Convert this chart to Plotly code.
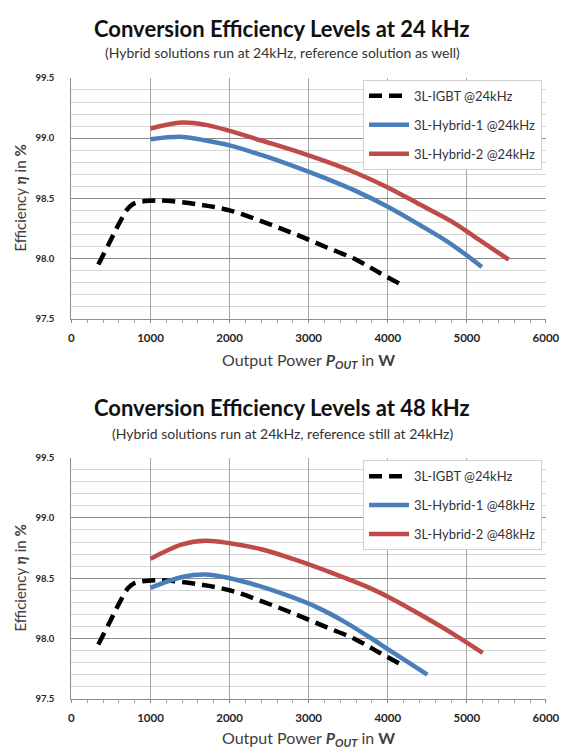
import plotly.graph_objects as go

# ---------------- data ----------------
igbt_p = [340, 480, 610, 720, 800, 1000, 1200, 1600, 2000, 2400, 2800, 3200, 3600, 3900, 4150]
igbt_eff = [97.95, 98.13, 98.30, 98.42, 98.46, 98.48, 98.48, 98.45, 98.40, 98.31, 98.21, 98.10, 97.99, 97.88, 97.79]

h1_24_p = [1000, 1400, 1700, 2000, 2400, 2800, 3200, 3600, 4000, 4400, 4800, 5190]
h1_24_eff = [98.99, 99.01, 98.98, 98.94, 98.86, 98.77, 98.67, 98.56, 98.43, 98.28, 98.12, 97.93]

h2_24_p = [1000, 1400, 1700, 2000, 2400, 2800, 3200, 3600, 4000, 4400, 4800, 5100, 5530]
h2_24_eff = [99.08, 99.13, 99.11, 99.06, 98.98, 98.90, 98.81, 98.71, 98.59, 98.45, 98.31, 98.18, 97.99]

h1_48_p = [1000, 1400, 1700, 2000, 2400, 2800, 3100, 3450, 3770, 4050, 4500]
h1_48_eff = [98.42, 98.51, 98.53, 98.50, 98.43, 98.34, 98.26, 98.14, 98.01, 97.89, 97.70]

h2_48_p = [1000, 1400, 1700, 2000, 2400, 2800, 3350, 3770, 4020, 4460, 4870, 5200]
h2_48_eff = [98.66, 98.78, 98.81, 98.79, 98.74, 98.66, 98.53, 98.42, 98.34, 98.18, 98.02, 97.88]

names_top = ["3L-IGBT @24kHz", "3L-Hybrid-1 @24kHz", "3L-Hybrid-2 @24kHz"]
names_bot = ["3L-IGBT @24kHz", "3L-Hybrid-1 @48kHz", "3L-Hybrid-2 @48kHz"]

titles = ["Conversion Efficiency Levels at 24 kHz", "Conversion Efficiency Levels at 48 kHz"]
subtitles = ["(Hybrid solutions run at 24kHz, reference solution as well)",
             "(Hybrid solutions run at 24kHz, reference still at 24kHz)"]

x_ticks = [0, 1000, 2000, 3000, 4000, 5000, 6000]
y_ticks = [97.5, 98.0, 98.5, 99.0, 99.5]
y_ticklabels = ["97.5", "98.0", "98.5", "99.0", "99.5"]

# ---------------- style ----------------
W, H = 575, 754
FONT = "Lato"
BLACK = "#000000"
BLUE = "#4A7EBB"
RED = "#BE4B48"
LW = 4.5

fig = go.Figure()

def add_series(x, y, name, color, dash, xa, ya, legend, group):
    fig.add_trace(go.Scatter(
        x=x, y=y, name=name, mode="lines",
        line=dict(color=color, width=LW, dash=dash, shape="spline", smoothing=1.0),
        xaxis=xa, yaxis=ya, legend=legend, legendgroup=group,
        hoverinfo="x+y+name",
    ))

DASH = "13px,7px"
add_series(igbt_p, igbt_eff, names_top[0], BLACK, DASH, "x", "y", "legend", "a1")
add_series(h1_24_p, h1_24_eff, names_top[1], BLUE, "solid", "x", "y", "legend", "a2")
add_series(h2_24_p, h2_24_eff, names_top[2], RED, "solid", "x", "y", "legend", "a3")
add_series(igbt_p, igbt_eff, names_bot[0], BLACK, DASH, "x2", "y2", "legend2", "b1")
add_series(h1_48_p, h1_48_eff, names_bot[1], BLUE, "solid", "x2", "y2", "legend2", "b2")
add_series(h2_48_p, h2_48_eff, names_bot[2], RED, "solid", "x2", "y2", "legend2", "b3")

def px_x(p):
    return p / W

def px_y(p):
    return 1 - p / H

xdom = [px_x(70.5), px_x(559.5)]
top_dom = [px_y(317.3), px_y(73)]
bot_dom = [px_y(703), px_y(458.3)]

def xaxis(anchor):
    return dict(
        domain=xdom, anchor=anchor, range=[0, 6000], tickvals=x_ticks,
        ticktext=[str(v) for v in x_ticks],
        showgrid=True, gridcolor="#a6a6a6", gridwidth=1,
        showline=True, linecolor="#8c8c8c", linewidth=1.3,
        ticks="outside", ticklen=3, tickcolor="#8c8c8c",
        minor=dict(dtick=200, ticks="outside", ticklen=3, tickcolor="#a0a0a0", showgrid=False),
        tickfont=dict(family=FONT, size=11.5, color="#262626", weight="bold"),
        ticklabelstandoff=5, zeroline=False, fixedrange=True,
    )

def yaxis(anchor):
    return dict(
        domain=None, anchor=anchor, range=[97.5, 99.5], tickvals=y_ticks,
        ticktext=y_ticklabels,
        showgrid=True, gridcolor="#8c8c8c", gridwidth=1.3,
        showline=True, linecolor="#8c8c8c", linewidth=1.3,
        ticks="", minor=dict(dtick=0.1, showgrid=True, gridcolor="#d6d6d6", gridwidth=1),
        tickfont=dict(family=FONT, size=9.5, color="#262626", weight="bold"),
        ticklabelstandoff=14, zeroline=False, fixedrange=True,
    )

ya1 = yaxis("x"); ya1["domain"] = top_dom
ya2 = yaxis("x2"); ya2["domain"] = bot_dom

legend_common = dict(
    xanchor="left", yanchor="top", bgcolor="white",
    bordercolor="#d0d0d0", borderwidth=1,
    font=dict(family=FONT, size=13, color="#333333"),
    tracegroupgap=9, itemwidth=40,
)

fig.update_layout(
    width=W, height=H, margin=dict(l=0, r=0, t=0, b=0),
    paper_bgcolor="white", plot_bgcolor="white",
    showlegend=True,
    xaxis=xaxis("y"), yaxis=ya1,
    xaxis2=xaxis("y2"), yaxis2=ya2,
    legend=dict(x=px_x(371), y=px_y(75), **legend_common),
    legend2=dict(x=px_x(371), y=px_y(461), **legend_common),
)

annots = []
for i, (tc, sc, xt, yt_c) in enumerate([(23, 47, 360, 195), (407, 434, 743, 580.5)]):
    annots.append(dict(text="<b>" + titles[i] + "</b>", x=0.5, y=px_y(tc), xref="paper", yref="paper",
                       xanchor="center", yanchor="middle", showarrow=False,
                       font=dict(family=FONT, size=22, color="#111111")))
    annots.append(dict(text=subtitles[i], x=0.5, y=px_y(sc), xref="paper", yref="paper",
                       xanchor="center", yanchor="middle", showarrow=False,
                       font=dict(family=FONT, size=14, color="#333333")))
    annots.append(dict(text="Output Power <b><i>P</i></b><sub><b><i>OUT</i></b></sub> in <b>W</b>",
                       x=px_x(315), y=px_y(xt), xref="paper", yref="paper",
                       xanchor="center", yanchor="middle", showarrow=False,
                       font=dict(family=FONT, size=16, color="#404040")))
    annots.append(dict(text="Efficiency <b><i>η</i></b> in <b>%</b>",
                       x=px_x(18), y=px_y(yt_c), xref="paper", yref="paper",
                       xanchor="center", yanchor="middle", showarrow=False, textangle=-90,
                       font=dict(family=FONT, size=15, color="#404040")))
fig.update_layout(annotations=annots)

fig.write_html("out.html")
